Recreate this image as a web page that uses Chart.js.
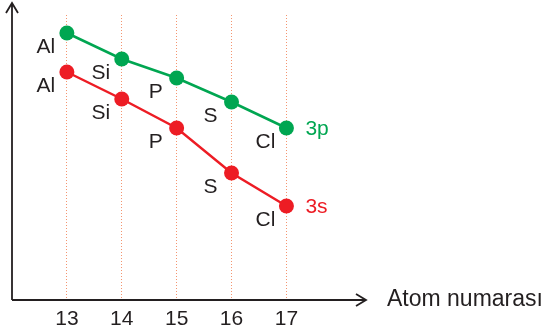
<!DOCTYPE html>
<html>
<head>
<meta charset="utf-8">
<script src="https://cdn.jsdelivr.net/npm/chart.js@4"></script>
<style>
  body { margin: 0; background: #fff; }
  #wrap { width: 547px; height: 336px; }
</style>
</head>
<body>
<div id="wrap"><canvas id="myChart" width="547" height="336"></canvas></div>
<script>
// atom numbers and element symbols
const atomNumbers = [13, 14, 15, 16, 17];
const elements = ['Al', 'Si', 'P', 'S', 'Cl'];
// orbital energies (arbitrary units)
const energy3p = [267, 241, 222, 198, 172];
const energy3s = [228, 201, 172, 127, 94];
const seriesNames = ['3p', '3s'];
const xTitle = 'Atom numarası';

const GREEN = '#00a651';
const RED = '#ed1c24';
const INK = '#231f20';
const FONT = '"Liberation Sans", Arial, sans-serif';

// axes with arrow heads, point labels, series names
const decorations = {
    id: 'decorations',
    afterDatasetsDraw(chart) {
        const { ctx, chartArea } = chart;
        const x0 = chartArea.left;
        const y0 = chartArea.bottom;
        ctx.save();
        ctx.strokeStyle = INK;
        ctx.lineWidth = 1.8;
        ctx.beginPath();
        ctx.moveTo(x0, y0);
        ctx.lineTo(x0, 3);
        ctx.moveTo(x0 - 6, 13);
        ctx.lineTo(x0, 3);
        ctx.lineTo(x0 + 6, 13);
        ctx.moveTo(x0, y0);
        ctx.lineTo(chartArea.right, y0);
        ctx.moveTo(chartArea.right - 10, y0 - 6);
        ctx.lineTo(chartArea.right, y0);
        ctx.lineTo(chartArea.right - 10, y0 + 6);
        ctx.stroke();

        ctx.font = '23px ' + FONT;
        ctx.fillStyle = INK;
        ctx.textBaseline = 'middle';
        ctx.textAlign = 'left';
        ctx.fillText(xTitle, chartArea.right + 21, y0);

        ctx.font = '21px ' + FONT;
        chart.data.datasets.forEach((ds, i) => {
            const meta = chart.getDatasetMeta(i);
            meta.data.forEach((pt, j) => {
                ctx.fillStyle = INK;
                ctx.textAlign = 'center';
                ctx.fillText(elements[j], pt.x - 21, pt.y + 14);
            });
            const last = meta.data[meta.data.length - 1];
            ctx.fillStyle = ds.borderColor;
            ctx.textAlign = 'left';
            ctx.fillText(ds.label, last.x + 19, last.y + 1);
        });
        ctx.restore();
    }
};

const ctx = document.getElementById('myChart');
const myChart = new Chart(ctx, {
    type: 'line',
    data: {
        datasets: [{
            label: seriesNames[0],
            data: atomNumbers.map((x, i) => ({ x, y: energy3p[i] })),
            borderColor: GREEN,
            backgroundColor: GREEN,
            borderWidth: 2.5,
            pointRadius: 7.5,
            pointBorderWidth: 0
        }, {
            label: seriesNames[1],
            data: atomNumbers.map((x, i) => ({ x, y: energy3s[i] })),
            borderColor: RED,
            backgroundColor: RED,
            borderWidth: 2.5,
            pointRadius: 7.5,
            pointBorderWidth: 0
        }]
    },
    options: {
        responsive: false,
        animation: false,
        layout: { padding: { left: 12, top: 15, right: 181, bottom: 1 } },
        plugins: { legend: { display: false }, tooltip: { enabled: false } },
        scales: {
            x: {
                type: 'linear',
                min: 12,
                max: 18.45,
                afterBuildTicks: (axis) => { axis.ticks = atomNumbers.map(v => ({ value: v })); },
                afterFit: (axis) => { axis.height = 35; },
                grid: { color: '#f4956f', lineWidth: 1, drawTicks: false },
                border: { display: false, dash: [1, 2] },
                ticks: {
                    color: INK,
                    padding: 7,
                    font: { size: 21, family: FONT },
                    maxRotation: 0
                }
            },
            y: {
                display: false,
                min: 0,
                max: 285
            }
        }
    },
    plugins: [decorations]
});
</script>
</body>
</html>
